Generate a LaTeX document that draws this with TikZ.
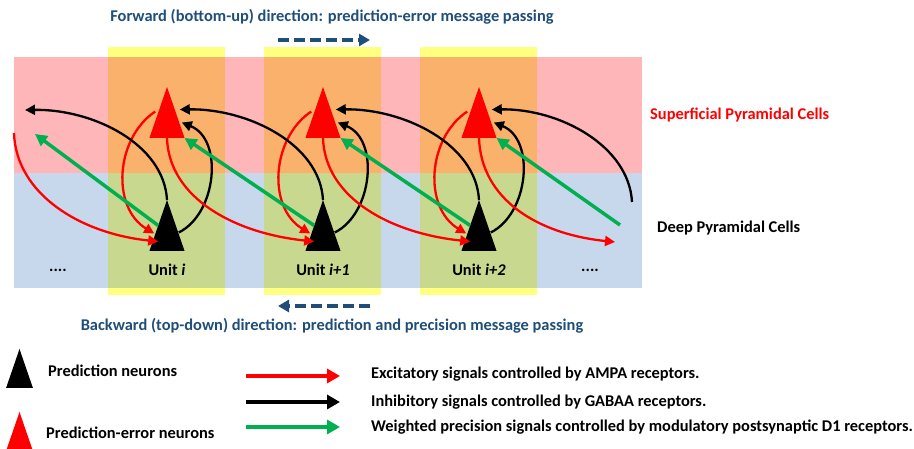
\documentclass[tikz,border=0pt]{standalone}
\usepackage{fontspec}
\setmainfont{Carlito}
\usetikzlibrary{
    positioning,
    calc,
    arrows.meta,
    shapes.geometric}
\definecolor{pinkband}{RGB}{255,182,185}
\definecolor{blueband}{RGB}{200,216,236}
\definecolor{yellowcol}{RGB}{255,255,128}
\definecolor{orangecell}{RGB}{250,177,107}
\definecolor{greencell}{RGB}{200,216,142}
\definecolor{titleblue}{RGB}{31,78,121}
\definecolor{precgreen}{RGB}{0,176,80}
\tikzset{
    txt/.style={font=\bfseries\fontsize{16.4}{18}\selectfont, inner sep=0pt},
    neurontri/.style={isosceles triangle, shape border rotate=90, isosceles triangle apex angle=38, minimum height=51pt, inner sep=0pt, outer sep=0pt},
    redtri/.style={neurontri, fill=red},
    blacktri/.style={neurontri, fill=black},
    excit/.style={draw=red, line width=2.3pt, -{Triangle[length=10pt,width=10pt]}},
    inhib/.style={draw=black, line width=2.3pt, -{Triangle[length=10pt,width=10pt]}},
    prec/.style={draw=precgreen, line width=3.5pt, -{Triangle[length=12pt,width=12pt]}},
    dirarrow/.style={draw=titleblue, line width=3.5pt, dash pattern=on 11pt off 5pt, -{Triangle[length=11pt,width=12pt]}},
    legarrow/.style={line width=4pt, -{Triangle[length=13pt,width=14pt]}}
}

\begin{document}
\begin{tikzpicture}[x=1pt,y=1pt]
\newcommand{\unitxtikz}{167}
\newcommand{\unitgaptikz}{156}

\useasboundingbox (0,0) rectangle (914,449);

\fill[pinkband] (14,276) rectangle (642,392);
\fill[blueband] (14,161) rectangle (642,276);

\foreach \k in {0,1,2}
{
\pgfmathsetmacro{\ux}{\unitxtikz+\k*\unitgaptikz}
\fill[yellowcol] (\ux-59,154) rectangle (\ux+58,402);
\fill[orangecell] (\ux-59,276) rectangle (\ux+58,392);
\fill[greencell] (\ux-59,161) rectangle (\ux+58,276);
\node[redtri, anchor=apex] (r\k) at (\ux,362) {};
\node[blacktri, anchor=apex] (b\k) at (\ux,249) {};
}

\node[txt] (unit0) at (167,179) {Unit \textit{i}};
\node[txt] (unit1) at (323,179) {Unit \textit{i+1}};
\node[txt] (unit2) at (479,179) {Unit \textit{i+2}};
\node[txt] (dotsl) at (58,179) {....};
\node[txt] (dotsr) at (590,179) {....};

\coordinate (redin) at (14,316);
\coordinate (inhout) at (25,339);
\coordinate (precout) at (35,315);
\coordinate (redout) at (615,207);
\coordinate (inhin) at (632,247);
\coordinate (precin) at (620,224);

\foreach \k in {0,1,2}
{
\draw[excit] ([shift={(-3,1)}]r\k.left side) .. controls +(-40,-27) and +(-43,26) .. ([shift={(-4,-8)}]b\k.left side);
\draw[inhib] ([shift={(3,-7)}]b\k.right side) .. controls +(38,19) and +(42,-17) .. ([shift={(6,-10)}]r\k.right side);
}

\draw[excit] (redin) .. controls +(2,-61) and +(-78,8) .. ([shift={(0,-16)}]b0.left side);
\draw[excit] (r0.lower side) .. controls +(2,-61) and +(-78,8) .. ([shift={(0,-16)}]b1.left side);
\draw[excit] (r1.lower side) .. controls +(2,-61) and +(-78,8) .. ([shift={(0,-16)}]b2.left side);
\draw[excit] (r2.lower side) .. controls +(2,-61) and +(-78,8) .. (redout);

\draw[inhib] (b0.apex) .. controls +(-3,56) and +(68,1) .. (inhout);
\draw[inhib] (b1.apex) .. controls +(-3,56) and +(68,1) .. ([shift={(4,3)}]r0.right side);
\draw[inhib] (b2.apex) .. controls +(-3,56) and +(68,1) .. ([shift={(4,3)}]r1.right side);
\draw[inhib] (inhin) .. controls +(-3,56) and +(68,1) .. ([shift={(4,3)}]r2.right side);

\draw[prec] (b0.left side) -- (precout);
\draw[prec] (b1.left side) -- (r0.right corner);
\draw[prec] (b2.left side) -- (r1.right corner);
\draw[prec] (precin) -- (r2.right corner);

\node[txt, text=titleblue] (fwdtitle) at (332,432) {Forward (bottom-up) direction: prediction-error message passing};
\coordinate (fwdstart) at (278,409);
\coordinate (fwdend) at (370,409);
\draw[dirarrow] (fwdstart) -- (fwdend);
\node[txt, text=titleblue] (bwdtitle) at (332,123) {Backward (top-down) direction: prediction and precision message passing};
\coordinate (bwdstart) at (370,143);
\coordinate (bwdend) at (278,143);
\draw[dirarrow] (bwdstart) -- (bwdend);

\node[txt, text=red, anchor=west] (suplabel) at (650,334) {Superficial Pyramidal Cells};
\node[txt, anchor=west] (deeplabel) at (657,221) {Deep Pyramidal Cells};

\node[neurontri, fill=black, minimum height=39pt, anchor=apex] (legb) at (19.5,100) {};
\node[txt, anchor=west] (legbtext) at (48,78) {Prediction neurons};
\node[neurontri, fill=red, minimum height=39pt, anchor=apex] (legr) at (19.5,37) {};
\node[txt, anchor=west] (legrtext) at (46,16) {Prediction-error neurons};

\coordinate (exs) at (246,73);
\coordinate (exe) at (340,73);
\coordinate (ins) at (246,47);
\coordinate (ine) at (340,47);
\coordinate (prs) at (246,22);
\coordinate (pre) at (340,22);
\draw[legarrow, red] (exs) -- (exe);
\draw[legarrow, black] (ins) -- (ine);
\draw[legarrow, precgreen] (prs) -- (pre);
\node[txt, anchor=west] (extext) at (371,75) {Excitatory signals controlled by AMPA receptors.};
\node[txt, anchor=west] (intext) at (371,47) {Inhibitory signals controlled by GABAA receptors.};
\node[txt, anchor=west] (prtext) at (371,22) {Weighted precision signals controlled by modulatory postsynaptic D1 receptors.};

\end{tikzpicture}
\end{document}
